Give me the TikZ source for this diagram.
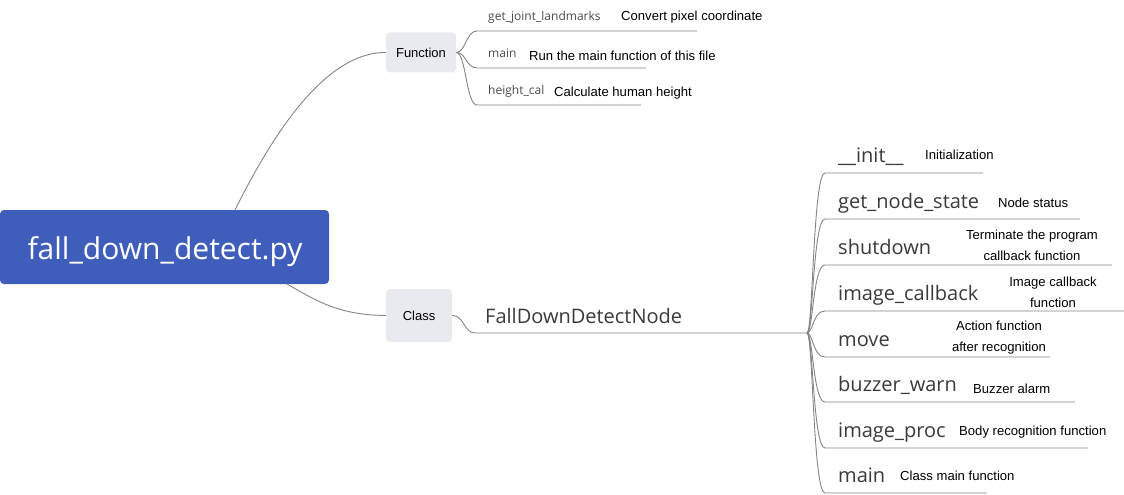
\documentclass[tikz,border=0pt]{standalone}
\usepackage{fontspec}
\newfontfamily\mfont{Open Sans}
\newfontfamily\dfont{Liberation Sans}
\definecolor{rootblue}{HTML}{3F5EBB}
\definecolor{boxgray}{HTML}{E9EAF0}
\definecolor{linegray}{HTML}{858585}
\definecolor{methcol}{HTML}{3A3A3A}
\definecolor{smcol}{HTML}{4A4A4A}
\begin{document}
\begin{tikzpicture}[x=1pt,y=-1pt,
  conn/.style={draw=linegray, line width=0.9pt},
  rootbox/.style={fill=rootblue, draw=none, rounded corners=4pt, minimum width=329pt, minimum height=74pt, inner sep=0pt},
  graybox/.style={fill=boxgray, draw=none, rounded corners=4pt, inner sep=0pt, font=\dfont\fontsize{13}{15}\selectfont},
  roottext/.style={font=\mfont\fontsize{30}{36}\selectfont, text=white, inner sep=0pt, anchor=base},
  meth/.style={font=\mfont\fontsize{20}{24}\selectfont, text=methcol, inner sep=0pt, anchor=base west},
  smeth/.style={font=\mfont\fontsize{12}{14}\selectfont, text=smcol, inner sep=0pt, anchor=base west},
  desc/.style={font=\dfont\fontsize{13.1}{20.5}\selectfont, text=black, inner sep=0pt, anchor=base west},
  desctwo/.style={desc, align=center, anchor=base}
]
\useasboundingbox (0,0) rectangle (1124,495);

% root
\node[rootbox] (root) at (164.5,247) {};
\node[roottext] (roott) at (165,259) {fall\_down\_detect.py};

% Function / Class boxes
\node[graybox, minimum width=70pt, minimum height=40pt] (func) at (421,52.5) {Function};
\node[graybox, minimum width=66pt, minimum height=53pt] (cls) at (419,315.5) {Class};

\coordinate (rootup) at (235,210);
\coordinate (rootdn) at (287,284);
\draw[conn] (rootup) .. controls (265,150) and (320,52) .. (func.west);
\draw[conn] (rootdn) .. controls (318,302) and (340,315) .. (cls.west);

% Function children
\coordinate (fs1) at (477,31);
\coordinate (fs2) at (477,68);
\coordinate (fs3) at (477,105);
\coordinate (fe1) at (697,31);
\coordinate (fe2) at (646,68);
\coordinate (fe3) at (641,105);
\draw[conn] (func.east) .. controls (466,52) and (466,31) .. (fs1) -- (fe1);
\draw[conn] (func.east) .. controls (466,52) and (466,68) .. (fs2) -- (fe2);
\draw[conn] (func.east) .. controls (466,52) and (466,105) .. (fs3) -- (fe3);
\node[smeth] (m1) at (488,21) {get\_joint\_landmarks};
\node[desc] (d1) at (621,21) {Convert pixel coordinate};
\node[smeth] (m2) at (488,58) {main};
\node[desc] (d2) at (529,60) {Run the main function of this file};
\node[smeth] (m3) at (488,95) {height\_cal};
\node[desc] (d3) at (554,96) {Calculate human height};

% Class child
\coordinate (cs) at (475,333);
\coordinate (bp) at (807,333);
\draw[conn] (cls.east) .. controls (464,315) and (464,333) .. (cs) -- (bp);
\node[meth] (fddn) at (485,323) {FallDownDetectNode};

% methods of the class
\foreach \n/\y/\e in {1/173/983, 2/219/1080, 3/265/1112, 4/311/1124, 5/357/1050, 6/402/1075, 7/448/1088, 8/493/987}{
  \coordinate (us\n) at (825,\y);
  \coordinate (ue\n) at (\e,\y);
  \draw[conn] (bp) .. controls (813,333) and (813,\y) .. (us\n) -- (ue\n);
}
\node[meth] (c1) at (838,162) {\_\_init\_\_};
\node[meth] (c2) at (838,208) {get\_node\_state};
\node[meth] (c3) at (838,254) {shutdown};
\node[meth] (c4) at (838,300) {image\_callback};
\node[meth] (c5) at (838,346) {move};
\node[meth] (c6) at (838,391) {buzzer\_warn};
\node[meth] (c7) at (838,437) {image\_proc};
\node[meth] (c8) at (838,482) {main};

\node[desc] (e1) at (925,159) {Initialization};
\node[desc] (e2) at (998,207) {Node status};
\node[desctwo] (e3) at (1032,260) {Terminate the program\\callback function};
\node[desctwo] (e4) at (1053,307) {Image callback\\function};
\node[desctwo] (e5) at (999,351) {Action function\\after recognition};
\node[desc] (e6) at (973,393) {Buzzer alarm};
\node[desc] (e7) at (959,435) {Body recognition function};
\node[desc] (e8) at (900,480) {Class main function};
\end{tikzpicture}
\end{document}
